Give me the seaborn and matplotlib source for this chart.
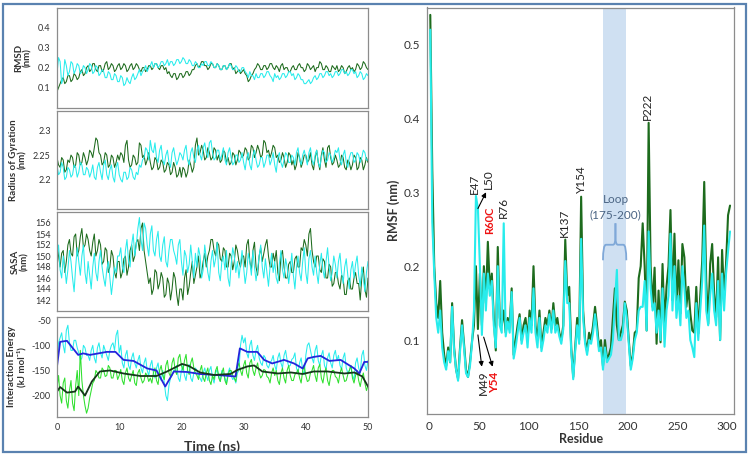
"""MD summary figure: RMSD / Rg / SASA / interaction energy vs time (left)
and per-residue RMSF (right), wild type (dark green) vs R60C mutant (cyan)."""

import matplotlib.pyplot as plt
import numpy as np
import pandas as pd
import seaborn as sns
from matplotlib.patches import Rectangle, PathPatch
from matplotlib.path import Path

# ---------------------------------------------------------------- data
# time series sampled every 0.25 ns, 0 .. 50 ns (one row = 5 ns)
RMSD_WT = [
    0.08, 0.10, 0.12, 0.14, 0.15, 0.12, 0.13, 0.16, 0.16, 0.13, 0.14, 0.17, 0.16, 0.14, 0.15, 0.18, 0.19, 0.16, 0.17, 0.20,
    0.21, 0.18, 0.19, 0.22, 0.22, 0.19, 0.18, 0.21, 0.21, 0.18, 0.19, 0.22, 0.23, 0.19, 0.20, 0.22, 0.21, 0.18, 0.19, 0.21,
    0.22, 0.19, 0.20, 0.22, 0.21, 0.18, 0.19, 0.21, 0.22, 0.19, 0.20, 0.22, 0.21, 0.19, 0.18, 0.20, 0.20, 0.18, 0.19, 0.21,
    0.21, 0.19, 0.20, 0.22, 0.22, 0.20, 0.19, 0.21, 0.21, 0.19, 0.20, 0.17, 0.18, 0.16, 0.15, 0.17, 0.17, 0.14, 0.15, 0.17,
    0.17, 0.15, 0.16, 0.18, 0.18, 0.16, 0.17, 0.19, 0.19, 0.21, 0.22, 0.20, 0.21, 0.23, 0.23, 0.21, 0.21, 0.19, 0.20, 0.22,
    0.22, 0.20, 0.20, 0.22, 0.21, 0.19, 0.19, 0.21, 0.21, 0.19, 0.20, 0.22, 0.22, 0.19, 0.20, 0.17, 0.18, 0.19, 0.17, 0.18,
    0.19, 0.17, 0.16, 0.13, 0.14, 0.16, 0.17, 0.19, 0.20, 0.22, 0.21, 0.19, 0.19, 0.21, 0.21, 0.19, 0.20, 0.22, 0.22, 0.20,
    0.19, 0.21, 0.20, 0.18, 0.21, 0.22, 0.19, 0.20, 0.20, 0.18, 0.18, 0.20, 0.21, 0.19, 0.19, 0.21, 0.22, 0.20, 0.20, 0.18,
    0.19, 0.22, 0.21, 0.19, 0.20, 0.21, 0.18, 0.20, 0.20, 0.23, 0.22, 0.19, 0.19, 0.21, 0.20, 0.18, 0.18, 0.21, 0.20, 0.19,
    0.21, 0.18, 0.19, 0.21, 0.20, 0.17, 0.18, 0.20, 0.21, 0.19, 0.20, 0.18, 0.19, 0.22, 0.21, 0.19, 0.20, 0.23, 0.22, 0.20,
    0.19,
]
RMSD_MUT = [
    0.17, 0.25, 0.23, 0.12, 0.15, 0.24, 0.21, 0.16, 0.18, 0.23, 0.22, 0.17, 0.19, 0.22, 0.21, 0.17, 0.18, 0.21, 0.20, 0.17,
    0.19, 0.22, 0.21, 0.17, 0.18, 0.21, 0.20, 0.16, 0.17, 0.19, 0.18, 0.15, 0.15, 0.18, 0.17, 0.14, 0.14, 0.17, 0.16, 0.13,
    0.13, 0.16, 0.15, 0.11, 0.12, 0.15, 0.13, 0.12, 0.15, 0.17, 0.14, 0.15, 0.17, 0.19, 0.16, 0.18, 0.19, 0.21, 0.18, 0.20,
    0.21, 0.23, 0.20, 0.22, 0.22, 0.20, 0.21, 0.23, 0.23, 0.21, 0.22, 0.24, 0.21, 0.23, 0.23, 0.21, 0.22, 0.24, 0.24, 0.22,
    0.23, 0.25, 0.24, 0.22, 0.22, 0.24, 0.23, 0.21, 0.21, 0.23, 0.22, 0.20, 0.20, 0.22, 0.21, 0.23, 0.23, 0.21, 0.21, 0.23,
    0.22, 0.20, 0.20, 0.22, 0.21, 0.19, 0.19, 0.21, 0.21, 0.19, 0.20, 0.22, 0.21, 0.19, 0.19, 0.21, 0.20, 0.18, 0.18, 0.20,
    0.20, 0.18, 0.17, 0.15, 0.18, 0.16, 0.16, 0.14, 0.17, 0.15, 0.15, 0.17, 0.17, 0.15, 0.16, 0.18, 0.18, 0.16, 0.15, 0.13,
    0.17, 0.15, 0.16, 0.14, 0.15, 0.17, 0.17, 0.15, 0.16, 0.18, 0.18, 0.16, 0.17, 0.14, 0.15, 0.17, 0.16, 0.14, 0.14, 0.12,
    0.12, 0.13, 0.14, 0.12, 0.13, 0.15, 0.16, 0.14, 0.15, 0.17, 0.17, 0.15, 0.16, 0.18, 0.18, 0.16, 0.17, 0.15, 0.16, 0.18,
    0.18, 0.16, 0.17, 0.19, 0.19, 0.17, 0.18, 0.16, 0.17, 0.19, 0.19, 0.17, 0.18, 0.15, 0.16, 0.18, 0.17, 0.14, 0.15, 0.17,
    0.16,
]
RG_WT = [
    2.245, 2.23, 2.225, 2.245, 2.24, 2.215, 2.22, 2.24, 2.235, 2.25, 2.245, 2.225, 2.23, 2.255, 2.25, 2.23, 2.235, 2.255, 2.245, 2.23,
    2.24, 2.26, 2.255, 2.245, 2.265, 2.285, 2.28, 2.255, 2.25, 2.23, 2.235, 2.255, 2.25, 2.225, 2.23, 2.25, 2.245, 2.225, 2.235, 2.25,
    2.24, 2.255, 2.25, 2.235, 2.27, 2.28, 2.24, 2.225, 2.23, 2.25, 2.245, 2.23, 2.235, 2.275, 2.27, 2.245, 2.25, 2.23, 2.24, 2.255,
    2.235, 2.22, 2.225, 2.245, 2.24, 2.22, 2.225, 2.24, 2.235, 2.215, 2.22, 2.235, 2.23, 2.21, 2.215, 2.235, 2.225, 2.205, 2.21, 2.225,
    2.205, 2.225, 2.22, 2.205, 2.215, 2.24, 2.23, 2.215, 2.225, 2.27, 2.285, 2.25, 2.255, 2.27, 2.26, 2.24, 2.245, 2.265, 2.255, 2.24,
    2.245, 2.265, 2.26, 2.24, 2.25, 2.235, 2.24, 2.26, 2.255, 2.235, 2.245, 2.23, 2.235, 2.255, 2.25, 2.23, 2.24, 2.26, 2.255, 2.245,
    2.25, 2.265, 2.26, 2.24, 2.245, 2.27, 2.265, 2.245, 2.255, 2.27, 2.26, 2.245, 2.25, 2.28, 2.275, 2.255, 2.26, 2.245, 2.255, 2.27,
    2.265, 2.245, 2.25, 2.235, 2.24, 2.255, 2.245, 2.225, 2.235, 2.255, 2.25, 2.23, 2.24, 2.22, 2.23, 2.255, 2.245, 2.225, 2.235, 2.25,
    2.25, 2.235, 2.24, 2.255, 2.23, 2.22, 2.245, 2.26, 2.235, 2.22, 2.25, 2.265, 2.24, 2.225, 2.265, 2.27, 2.245, 2.23, 2.235, 2.25,
    2.24, 2.225, 2.23, 2.25, 2.245, 2.225, 2.22, 2.24, 2.235, 2.22, 2.23, 2.25, 2.245, 2.22, 2.225, 2.245, 2.24, 2.22, 2.23, 2.245,
    2.235,
]
RG_MUT = [
    2.23, 2.21, 2.215, 2.235, 2.225, 2.2, 2.205, 2.225, 2.22, 2.205, 2.21, 2.23, 2.225, 2.205, 2.215, 2.235, 2.23, 2.21, 2.21, 2.225,
    2.22, 2.205, 2.215, 2.23, 2.205, 2.2, 2.225, 2.235, 2.215, 2.2, 2.23, 2.24, 2.21, 2.2, 2.22, 2.23, 2.205, 2.195, 2.225, 2.235,
    2.21, 2.2, 2.195, 2.215, 2.215, 2.2, 2.205, 2.225, 2.22, 2.205, 2.2, 2.215, 2.21, 2.23, 2.225, 2.24, 2.245, 2.265, 2.26, 2.24,
    2.28, 2.26, 2.255, 2.275, 2.245, 2.235, 2.26, 2.27, 2.24, 2.23, 2.25, 2.26, 2.235, 2.225, 2.255, 2.265, 2.245, 2.23, 2.24, 2.255,
    2.25, 2.24, 2.26, 2.27, 2.24, 2.23, 2.255, 2.265, 2.245, 2.235, 2.26, 2.27, 2.25, 2.24, 2.265, 2.275, 2.255, 2.245, 2.275, 2.28,
    2.255, 2.24, 2.245, 2.26, 2.26, 2.24, 2.25, 2.265, 2.24, 2.23, 2.255, 2.265, 2.245, 2.23, 2.235, 2.25, 2.25, 2.235, 2.24, 2.255,
    2.235, 2.22, 2.245, 2.255, 2.23, 2.22, 2.25, 2.26, 2.24, 2.225, 2.23, 2.245, 2.245, 2.225, 2.235, 2.25, 2.25, 2.23, 2.24, 2.255,
    2.23, 2.215, 2.245, 2.255, 2.235, 2.225, 2.24, 2.255, 2.25, 2.235, 2.235, 2.25, 2.245, 2.23, 2.255, 2.265, 2.24, 2.23, 2.25, 2.26,
    2.245, 2.23, 2.255, 2.265, 2.24, 2.23, 2.25, 2.26, 2.235, 2.225, 2.245, 2.26, 2.255, 2.235, 2.24, 2.255, 2.25, 2.235, 2.245, 2.26,
    2.255, 2.265, 2.24, 2.23, 2.25, 2.26, 2.235, 2.225, 2.245, 2.255, 2.255, 2.235, 2.24, 2.255, 2.25, 2.235, 2.245, 2.26, 2.255, 2.24,
    2.24,
]
SASA_WT = [
    152.5, 150, 148, 150.5, 151, 147, 149, 152, 153, 150.5, 150, 153.5, 154, 150, 151, 153.5, 155, 151.5, 152, 154,
    153, 151, 150, 152.5, 154, 150, 151, 153, 152, 148.5, 149, 151.5, 151, 147, 148, 151, 150, 147, 146, 149,
    149, 146, 147, 149.5, 150, 146.5, 148, 151, 152, 149, 150, 152.5, 153, 151, 155, 156, 151, 149, 147, 145,
    146, 143, 144, 147.5, 147, 144, 145, 147, 146, 142.5, 143, 146, 145, 142, 144, 147, 146, 143, 141, 144,
    144, 142, 146, 147.5, 143, 144.5, 147, 149, 145, 146.5, 148, 150, 146, 147, 149, 150.5, 148, 150, 151, 153,
    153, 151, 150, 152.5, 152, 149.5, 149, 151.5, 151, 148, 148, 150.5, 150, 147.5, 149, 152, 151, 149, 148, 150,
    150, 148, 152, 153, 149, 147.5, 151, 152.5, 148, 146.5, 150, 151.5, 149, 150.5, 152, 153, 150, 148, 148, 150.5,
    149, 151, 147, 145.5, 150, 151, 148, 146, 146, 148.5, 149, 147, 147, 149.5, 150, 148, 148, 151.5, 151, 153,
    152, 150, 154, 155, 151, 149, 148, 150, 150, 147.5, 147, 149.5, 149, 146, 146, 148.5, 148, 144.5, 145, 147,
    147, 145, 144, 146.5, 146, 143, 143, 145.5, 146, 144, 144, 146, 147, 145, 145, 142, 146, 148, 144, 142.5,
    146,
]
SASA_MUT = [
    150, 152, 147.5, 146, 150, 148, 145, 147.5, 151, 149, 146, 143.5, 148, 151.5, 149, 146.5, 150, 152, 147, 145,
    149, 146.5, 144, 148, 150.5, 147, 145.5, 149, 151, 148, 146, 144.5, 147.5, 149, 146, 143, 145.5, 148, 147, 150,
    150, 151.5, 148, 147, 151, 153, 149, 148, 152, 154, 150, 152, 155, 157, 153, 151, 156, 155, 152, 150,
    154, 155.5, 151, 150, 153, 154.5, 150, 149, 152, 153.5, 149, 148, 151, 153, 153, 151, 150, 148.5, 152, 153,
    149, 146.5, 151, 150, 147, 148.5, 152, 149, 146, 150.5, 148, 151.5, 150, 146, 147.5, 152, 149.5, 147, 145.5, 149,
    151, 148, 149.5, 152.5, 147, 145.5, 149, 150, 147.5, 151, 146, 144.5, 148.5, 151.5, 150, 147, 149, 146, 148.5, 151,
    148, 145, 147, 150.5, 149, 146.5, 151, 148, 145.5, 147.5, 150, 152, 148, 146, 149.5, 147, 144.5, 148, 150.5, 147,
    149, 146, 145, 148.5, 151, 147.5, 146, 149.5, 148, 145, 147.5, 150.5, 146.5, 144, 148, 150, 147, 145.5, 149, 151.5,
    147, 145, 149.5, 151, 148, 146.5, 150, 147, 145, 148.5, 150.5, 147.5, 146, 149, 151.5, 148, 145.5, 147, 150, 148.5,
    146, 149, 150.5, 147, 145, 148, 149.5, 146.5, 144, 147.5, 149, 146, 148.5, 150, 146.5, 144.5, 148, 146, 143.5, 147,
    149,
]
IE_WT = [
    -185, -160, -200, -215, -175, -165, -210, -225, -190, -170, -215, -230, -180, -150, -200, -110, -170, -200, -220, -235,
    -225, -205, -190, -175, -170, -150, -155, -165, -165, -145, -150, -162, -160, -140, -145, -165, -165, -150, -150, -168,
    -160, -148, -170, -178, -155, -145, -165, -172, -160, -150, -175, -180, -155, -148, -165, -175, -170, -155, -160, -172,
    -165, -175, -155, -145, -170, -178, -150, -140, -160, -168, -140, -130, -155, -162, -135, -125, -150, -158, -125, -118,
    -140, -150, -130, -118, -150, -158, -135, -125, -145, -155, -160, -168, -150, -140, -165, -172, -155, -145, -170, -178,
    -160, -168, -150, -142, -165, -172, -155, -145, -170, -178, -160, -150, -150, -160, -165, -172, -145, -135, -150, -160,
    -140, -130, -155, -165, -135, -128, -150, -160, -145, -135, -155, -165, -160, -148, -150, -162, -165, -175, -155, -145,
    -160, -150, -170, -178, -155, -145, -165, -175, -150, -140, -160, -170, -170, -158, -155, -148, -165, -175, -150, -142,
    -160, -172, -170, -155, -150, -140, -160, -172, -145, -138, -165, -175, -155, -145, -170, -180, -160, -150, -150, -162,
    -165, -175, -155, -145, -160, -172, -170, -158, -150, -140, -165, -175, -160, -150, -170, -182, -165, -155, -175, -190,
    -180,
]
IE_MUT = [
    -130, -95, -85, -75, -100, -115, -70, -60, -95, -110, -110, -90, -90, -105, -115, -130, -125, -100, -105, -120,
    -120, -130, -110, -100, -125, -135, -105, -95, -115, -125, -100, -110, -120, -130, -110, -100, -95, -110, -80, -70,
    -115, -100, -135, -145, -120, -110, -140, -148, -125, -115, -135, -145, -130, -120, -145, -155, -135, -125, -150, -160,
    -140, -130, -155, -165, -145, -135, -160, -170, -150, -175, -200, -210, -180, -165, -160, -150, -150, -140, -165, -172,
    -150, -140, -160, -170, -145, -138, -165, -172, -155, -145, -150, -162, -165, -172, -155, -145, -160, -170, -150, -142,
    -165, -175, -155, -148, -160, -172, -150, -158, -165, -175, -155, -145, -160, -168, -165, -175, -155, -150, -100, -80,
    -95, -85, -115, -125, -100, -90, -120, -130, -110, -100, -125, -135, -140, -120, -125, -140, -145, -135, -130, -120,
    -140, -150, -125, -115, -135, -145, -120, -110, -130, -142, -140, -128, -125, -115, -145, -155, -135, -125, -150, -158,
    -120, -100, -95, -110, -125, -135, -110, -100, -130, -140, -120, -110, -140, -148, -125, -115, -135, -145, -120, -110,
    -130, -120, -140, -148, -125, -115, -145, -155, -150, -140, -160, -168, -135, -125, -145, -155, -120, -110, -140, -150,
    -130,
]
# running averages of the interaction energy (knots)
AVG_MUT_T = [0, 0.5, 1.6, 3.4, 4.2, 5.3, 8, 9.4, 10.7, 12.3, 14.5, 16, 17.4,
             18.8, 20.9, 23, 26.8, 28.7, 29.4, 30.6, 32.2, 33.3, 34.6, 36.5,
             38.1, 39.5, 40.3, 41.3, 42.4, 43.8, 45.6, 47.8, 48.6, 49.4, 50]
AVG_MUT_E = [-142, -93, -91, -119, -116, -119, -113, -113, -129, -131, -146,
             -150, -182, -152, -153, -157, -160, -162, -106, -113, -113, -129,
             -136, -129, -136, -146, -126, -123, -121, -131, -129, -146, -156,
             -133, -133]
AVG_WT_T = [0, 0.5, 1.6, 2.9, 3.4, 4.5, 5.6, 6.9, 8.5, 10.7, 13.4, 16, 17.7,
            20.1, 21.2, 23, 25.2, 27.9, 29, 30.6, 31.7, 33, 35.5, 37.6, 39.5,
            41.3, 43.5, 46.2, 47.8, 49.1, 50]
AVG_WT_E = [-192, -183, -194, -192, -182, -200, -172, -152, -150, -156, -161,
            -161, -152, -137, -141, -154, -159, -157, -149, -142, -140, -152,
            -156, -154, -157, -152, -152, -156, -154, -162, -182]

# RMSF, every second residue 1 .. 303
RESIDUES = list(range(1, 304, 2))
RMSF_WT = [
    0.54, 0.33, 0.20, 0.15, 0.13, 0.18, 0.11, 0.08, 0.065, 0.09,
    0.07, 0.15, 0.09, 0.06, 0.048, 0.09, 0.127, 0.095, 0.06, 0.05,
    0.07, 0.098, 0.12, 0.20, 0.115, 0.19, 0.12, 0.20, 0.15, 0.233,
    0.17, 0.19, 0.13, 0.086, 0.226, 0.13, 0.12, 0.14, 0.11, 0.13,
    0.12, 0.17, 0.08, 0.10, 0.12, 0.135, 0.10, 0.12, 0.13, 0.10,
    0.14, 0.12, 0.20, 0.12, 0.10, 0.14, 0.09, 0.11, 0.13, 0.12,
    0.14, 0.115, 0.15, 0.12, 0.13, 0.11, 0.10, 0.12, 0.236, 0.16,
    0.172, 0.09, 0.05, 0.09, 0.13, 0.10, 0.294, 0.14, 0.10, 0.085,
    0.11, 0.10, 0.12, 0.145, 0.12, 0.09, 0.10, 0.065, 0.10, 0.075,
    0.08, 0.09, 0.13, 0.17, 0.12, 0.10, 0.11, 0.12, 0.152, 0.14,
    0.10, 0.065, 0.08, 0.11, 0.113, 0.184, 0.20, 0.258, 0.20, 0.113,
    0.394, 0.20, 0.145, 0.198, 0.095, 0.167, 0.097, 0.203, 0.12, 0.172,
    0.20, 0.276, 0.154, 0.244, 0.145, 0.208, 0.136, 0.23, 0.212, 0.145,
    0.172, 0.136, 0.113, 0.11, 0.172, 0.109, 0.16, 0.208, 0.314, 0.18,
    0.122, 0.203, 0.23, 0.163, 0.131, 0.212, 0.10, 0.222, 0.16, 0.203,
    0.269, 0.282,
]
RMSF_MUT = [
    0.52, 0.26, 0.19, 0.13, 0.11, 0.14, 0.09, 0.07, 0.06, 0.085,
    0.07, 0.145, 0.085, 0.06, 0.045, 0.085, 0.12, 0.09, 0.055, 0.05,
    0.065, 0.095, 0.14, 0.295, 0.278, 0.20, 0.107, 0.19, 0.14, 0.19,
    0.16, 0.18, 0.12, 0.09, 0.20, 0.12, 0.11, 0.258, 0.105, 0.125,
    0.11, 0.165, 0.075, 0.09, 0.11, 0.13, 0.095, 0.11, 0.12, 0.09,
    0.13, 0.11, 0.17, 0.11, 0.09, 0.13, 0.085, 0.10, 0.12, 0.11,
    0.135, 0.11, 0.14, 0.11, 0.12, 0.105, 0.095, 0.115, 0.207, 0.15,
    0.15, 0.085, 0.047, 0.085, 0.12, 0.095, 0.237, 0.13, 0.095, 0.08,
    0.10, 0.095, 0.11, 0.135, 0.11, 0.085, 0.09, 0.06, 0.09, 0.07,
    0.075, 0.08, 0.10, 0.15, 0.195, 0.10, 0.10, 0.11, 0.15, 0.13,
    0.095, 0.06, 0.075, 0.10, 0.11, 0.14, 0.145, 0.145, 0.18, 0.113,
    0.247, 0.17, 0.14, 0.15, 0.11, 0.14, 0.10, 0.17, 0.091, 0.14,
    0.16, 0.244, 0.14, 0.20, 0.13, 0.16, 0.12, 0.20, 0.17, 0.13,
    0.14, 0.10, 0.09, 0.077, 0.15, 0.10, 0.14, 0.18, 0.255, 0.14,
    0.12, 0.16, 0.19, 0.14, 0.12, 0.18, 0.10, 0.19, 0.14, 0.19,
    0.22, 0.247,
]
LOOP = (175, 198.5)

# residue labels: (text, residue, rmsf position)
PEAK_LABELS = [
    ("E47", 45.5, 0.312),
    ("L50", 59.5, 0.318),
    ("R76", 75.0, 0.280),
    ("K137", 136.0, 0.259),
    ("Y154", 153.0, 0.318),
    ("P222", 220.0, 0.416),
    ("M49", 54.0, 0.042),
]

WT_GREEN = "#1d6b1d"
MUT_CYAN = "#27ecec"
IE_GREEN = "#2ee02e"
AVG_BLUE = "#2424dc"
AVG_DARK = "#15361a"
SPINE = "#8c8c8c"
TEXT = "#333333"


def series_frame(values):
    t = np.linspace(0, 50, len(values))
    return pd.DataFrame({"t": t, "v": values})


def style_left(ax, ylim, yticks, ylabels, ylabel, bottom=False):
    ax.set_xlim(0, 50)
    ax.set_ylim(*ylim)
    ax.set_xticks([0, 10, 20, 30, 40, 50])
    ax.set_yticks(yticks)
    ax.set_yticklabels(ylabels)
    if not bottom:
        ax.set_xticklabels([])
    ax.set_xlabel("")
    ax.set_ylabel(ylabel, fontsize=7, fontweight="bold", color=TEXT, labelpad=4,
                  linespacing=1.1)
    ax.tick_params(labelsize=6.5, length=2.5, width=0.7, colors=SPINE,
                   labelcolor=TEXT, pad=2)
    for sp in ax.spines.values():
        sp.set_color(SPINE)
        sp.set_linewidth(0.9)


sns.set_style("white")
plt.rcParams["font.family"] = ["Lato", "DejaVu Sans"]

fig = plt.figure(figsize=(7.49, 4.57), dpi=100)
left_x, left_w = 57 / 749, 311 / 749
ax_rmsd = fig.add_axes([left_x, 1 - 107.7 / 457, left_w, 100.2 / 457])
ax_rg = fig.add_axes([left_x, 1 - 209 / 457, left_w, 98 / 457])
ax_sasa = fig.add_axes([left_x, 1 - 311 / 457, left_w, 99 / 457])
ax_ie = fig.add_axes([left_x, 1 - 416.7 / 457, left_w, 100 / 457])
ax_rmsf = fig.add_axes([427.3 / 749, 1 - 414 / 457, 306.7 / 749, 406.5 / 457])

lw = 0.75
for ax, wt, mut in [(ax_rmsd, RMSD_WT, RMSD_MUT), (ax_rg, RG_WT, RG_MUT),
                    (ax_sasa, SASA_WT, SASA_MUT)]:
    sns.lineplot(data=series_frame(wt), x="t", y="v", color=WT_GREEN, lw=lw,
                 estimator=None, ax=ax)
    sns.lineplot(data=series_frame(mut), x="t", y="v", color=MUT_CYAN, lw=lw,
                 estimator=None, ax=ax)

sns.lineplot(data=series_frame(IE_MUT), x="t", y="v", color=MUT_CYAN, lw=lw,
             estimator=None, ax=ax_ie)
sns.lineplot(data=series_frame(IE_WT), x="t", y="v", color=IE_GREEN, lw=lw,
             estimator=None, ax=ax_ie)
sns.lineplot(x=AVG_MUT_T, y=AVG_MUT_E, color=AVG_BLUE, lw=1.3, estimator=None,
             ax=ax_ie)
sns.lineplot(x=AVG_WT_T, y=AVG_WT_E, color=AVG_DARK, lw=1.3, estimator=None,
             ax=ax_ie)

style_left(ax_rmsd, (0, 0.5), [0.1, 0.2, 0.3, 0.4],
           ["0.1", "0.2", "0.3", "0.4"], "RMSD\n(nm)")
style_left(ax_rg, (2.14, 2.34), [2.15, 2.2, 2.25, 2.3],
           ["", "2.2", "2.25", "2.3"], "Radius of Gyration\n(nm)")
style_left(ax_sasa, (140, 158), list(range(142, 157, 2)),
           [str(v) for v in range(142, 157, 2)], "SASA\n(nm)")
style_left(ax_ie, (-242, -43), [-200, -150, -100, -50],
           ["-200", "-150", "-100", "-50"],
           "Interaction Energy\n(kJ mol\u207b\u00b9)", bottom=True)
ax_ie.set_xlabel("Time (ns)", fontsize=10, fontweight="bold", color=TEXT,
                 labelpad=6)

# ---------------------------------------------------------------- RMSF
ax = ax_rmsf
ax.axvspan(*LOOP, color="#cfe0f2", lw=0, zorder=0)
sns.lineplot(x=RESIDUES, y=RMSF_WT, color=WT_GREEN, lw=1.5, estimator=None, ax=ax)
sns.lineplot(x=RESIDUES, y=RMSF_MUT, color=MUT_CYAN, lw=1.5, estimator=None, ax=ax)
ax.set_xlim(-2, 307)
ax.set_ylim(0, 0.55)
ax.set_xticks(range(0, 301, 50))
ax.set_yticks([0.1, 0.2, 0.3, 0.4, 0.5])
ax.set_xlabel("Residue", fontsize=9, fontweight="bold", color=TEXT, labelpad=1)
ax.set_ylabel("RMSF (nm)", fontsize=9, fontweight="bold", color=TEXT, labelpad=3)
ax.tick_params(labelsize=8.5, length=3, width=0.8, colors=SPINE,
               labelcolor=TEXT, pad=2)
for sp in ax.spines.values():
    sp.set_color(SPINE)
    sp.set_linewidth(0.9)

for txt, x, y in PEAK_LABELS:
    ax.text(x, y, txt, rotation=90, ha="center", va="center", fontsize=8.5,
            color="#222222")
ax.text(61, 0.262, "R60C", rotation=90, ha="center", va="center", fontsize=8,
        color="#ee1111", fontweight="bold")
ax.text(66, 0.043, "Y54", rotation=90, ha="center", va="center", fontsize=8.5,
        color="#ee1111", fontweight="bold")

arrow = dict(arrowstyle="-|>", color="black", lw=0.8, mutation_scale=7,
             shrinkA=0, shrinkB=0)
ax.annotate("", xy=(57.2, 0.300), xytext=(49, 0.278), arrowprops=arrow)
ax.annotate("", xy=(52.9, 0.064), xytext=(49, 0.107), arrowprops=arrow)
ax.annotate("", xy=(63.8, 0.064), xytext=(54.8, 0.104), arrowprops=arrow)

mid = (LOOP[0] + LOOP[1]) / 2 + 0.8
ax.text(mid, 0.29, "Loop", ha="center", va="center", fontsize=8.5,
        color="#4b6584")
ax.text(mid, 0.27, "(175-200)", ha="center", va="center", fontsize=8.5,
        color="#4b6584")
y_end, y_arm, y_tip = 0.208, 0.229, 0.258
for side in (LOOP[0], LOOP[1]):
    s = 1 if side < mid else -1
    verts = [(side, y_end), (side, y_arm), (side + s * 3, y_arm),
             (mid - s * 2.5, y_arm), (mid, y_arm), (mid, y_arm + 0.01),
             (mid, y_tip)]
    codes = [Path.MOVETO, Path.CURVE3, Path.CURVE3, Path.LINETO,
             Path.CURVE3, Path.CURVE3, Path.LINETO]
    ax.add_patch(PathPatch(Path(verts, codes), fill=False, ec="#7fa8d8",
                           lw=1.3))

fig.add_artist(Rectangle((0.004, 0.011), 0.992, 0.98, transform=fig.transFigure,
                         fill=False, ec="#5a82b0", lw=1.6))

fig.savefig("out.png", dpi=100)
